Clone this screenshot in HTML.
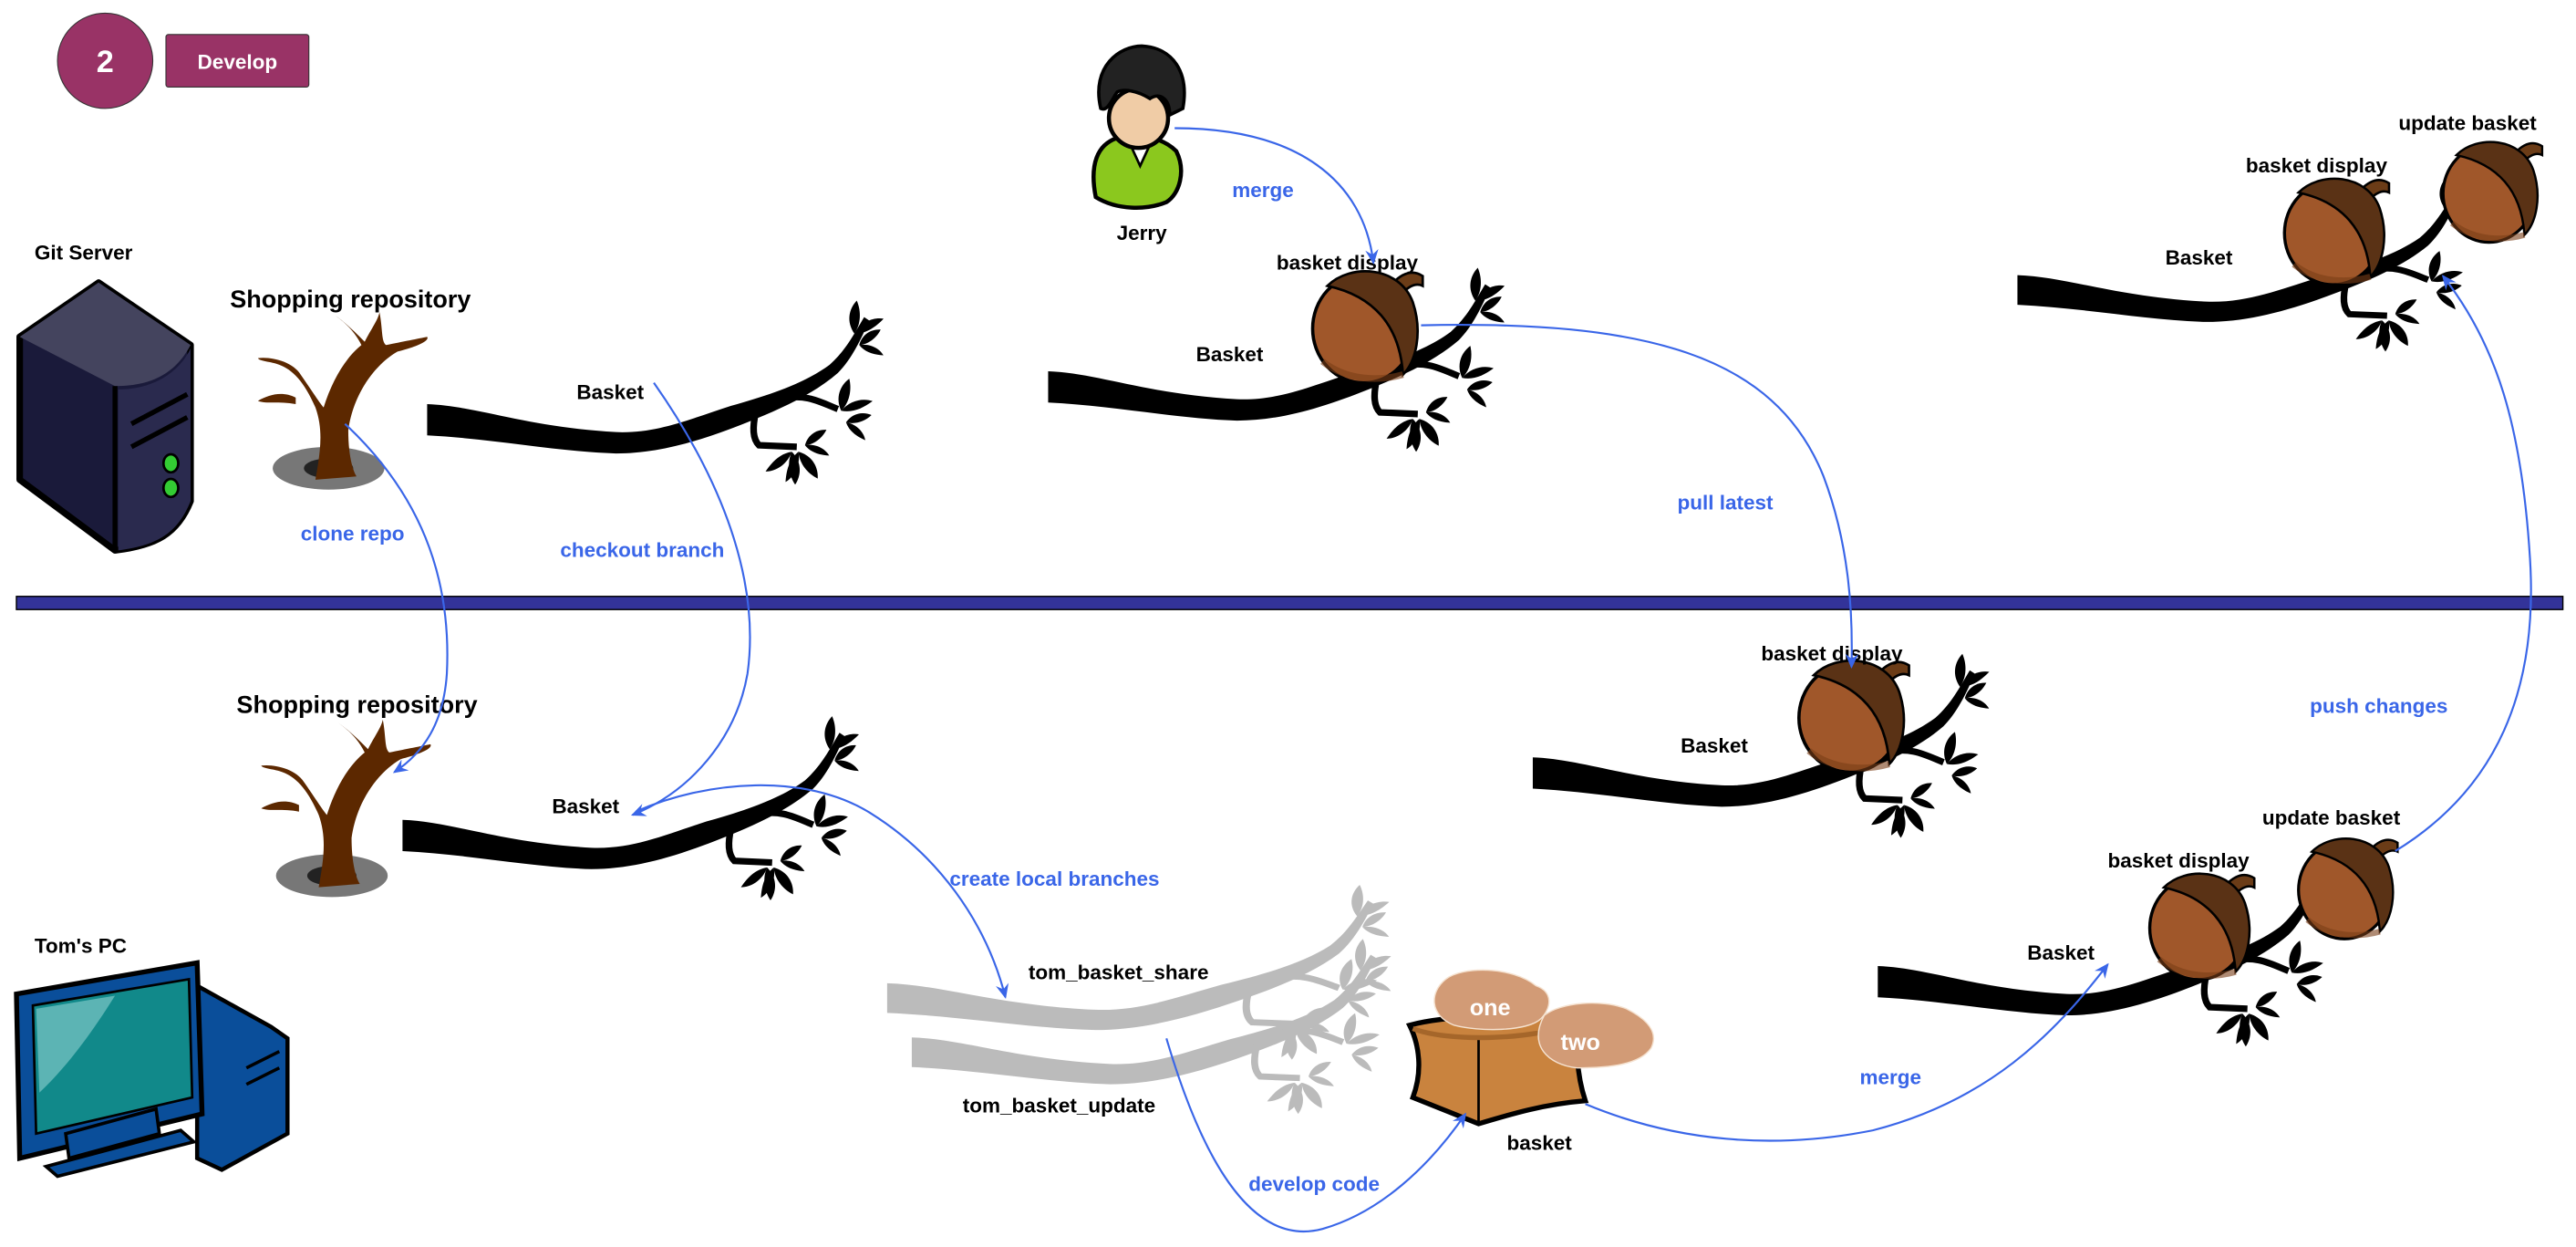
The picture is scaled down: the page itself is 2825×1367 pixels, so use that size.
<!DOCTYPE html>
<html><head><meta charset="utf-8"><style>
html,body{margin:0;padding:0;background:#fff;}
svg{display:block;}
text{font-family:"Liberation Sans",sans-serif;font-weight:bold;}
.l{font-size:12.5px;fill:#000;}
.b{font-size:12.5px;fill:#3a66e8;}
.c{fill:none;stroke:#3a66e8;stroke-width:1.2;}
</style></head><body>
<svg width="2825" height="1367" viewBox="0 0 1568 759" preserveAspectRatio="none" xmlns="http://www.w3.org/2000/svg">
<defs>
<marker id="ar" markerWidth="10" markerHeight="10" refX="8" refY="5" orient="auto" markerUnits="userSpaceOnUse">
<path d="M0,1 L9,5 L0,9 L3,5 Z" fill="#3a66e8"/></marker>
<g id="leaf2">
<path d="M0,0 C-6,-6 -6,-14 -2,-20 C2,-14 3,-6 0,0 Z"/>
<path d="M0,0 C3,-8 10,-12 16,-12 C12,-6 7,-1 0,0 Z"/>
</g>
<g id="br">
<path d="M0,-9 C30,-8 60,5 115,8 C140,9 160,0 185,-8 C210,-15 230,-22 245,-33 C255,-42 260,-52 266,-62 L269,-60 C264,-48 258,-36 250,-28 C235,-15 215,-6 195,2 C165,14 140,21 115,21 C80,20 40,12 0,10 Z"/>
<path d="M200,-4 C198,5 198,12 202,16 L225,17" fill="none" stroke="currentColor" stroke-width="4"/>
<path d="M215,-12 C230,-16 240,-10 250,-6" fill="none" stroke="currentColor" stroke-width="4"/>
<use href="#leaf2" transform="translate(260,-52) rotate(10)"/>
<use href="#leaf2" transform="translate(263,-45) rotate(60) scale(0.8)"/>
<use href="#leaf2" transform="translate(252,-5) rotate(20)"/>
<use href="#leaf2" transform="translate(255,2) rotate(80) scale(0.8)"/>
<use href="#leaf2" transform="translate(222,20) rotate(180)"/>
<use href="#leaf2" transform="translate(226,20) rotate(150)"/>
<use href="#leaf2" transform="translate(230,16) rotate(60) scale(0.8)"/>
</g>
<g id="ac">
<path d="M18,-26 C24,-32 30,-34 36,-30 L36,-24 C32,-26 28,-24 24,-20 Z" fill="#6b3c17" stroke="#000" stroke-width="1.5"/>
<ellipse cx="0" cy="2" rx="31" ry="33" fill="#a0572a" stroke="#000" stroke-width="2"/>
<path d="M-22,-24 C-8,-38 22,-36 30,-14 C36,4 32,22 24,30 C22,0 6,-18 -22,-24 Z" fill="#5a3215" stroke="#000" stroke-width="1.5"/>
<path d="M-25,22 C-10,34 10,34 24,30" fill="none" stroke="#7a3e18" stroke-width="4" opacity="0.6"/>
</g>
</defs>

<!-- header -->
<circle cx="64" cy="37" r="29" fill="#993366" stroke="#333" stroke-width="0.6"/>
<text x="64" y="44" text-anchor="middle" style="font-size:19px;fill:#fff">2</text>
<rect x="101" y="21" width="87" height="32" rx="1.5" fill="#993366" stroke="#333" stroke-width="0.6"/>
<text x="144.5" y="42" text-anchor="middle" style="font-size:12.5px;fill:#fff">Develop</text>

<!-- divider -->
<rect x="10" y="363" width="1550" height="8" fill="#333399" stroke="#000" stroke-width="0.8"/>

<!-- server -->
<text x="21" y="158" class="l">Git Server</text>
<path d="M12,205 L60,172 L116,210 L116,305 C108,325 95,332 70,335 L12,292 Z" fill="#1a1a3a" stroke="#000" stroke-width="4" stroke-linejoin="round"/>
<path d="M12,205 L60,172 L116,210 C108,225 95,235 70,235 Z" fill="#44445e"/>
<path d="M70,235 L70,335" stroke="#000" stroke-width="3"/>
<path d="M72,237 C95,237 110,225 116,212 L116,305 C108,325 95,332 72,335Z" fill="#2a2a4e"/>
<path d="M80,258 L114,240 M80,272 L114,254" stroke="#000" stroke-width="3"/>
<ellipse cx="104" cy="282" rx="4.5" ry="5.5" fill="#3c3" stroke="#000" stroke-width="1.5"/>
<ellipse cx="104" cy="297" rx="4.5" ry="5.5" fill="#3c3" stroke="#000" stroke-width="1.5"/>

<!-- tree top -->
<text x="140" y="187" style="font-size:15px">Shopping repository</text>
<ellipse cx="200" cy="285" rx="34" ry="13" fill="#777"/>
<ellipse cx="200" cy="285" rx="15" ry="6" fill="#222"/>
<path d="M192,292 C195,275 197,262 192,248 C185,232 178,225 170,222 C165,220 158,220 157,218 C165,217 178,220 183,228 C190,238 195,246 197,248 C202,232 210,218 220,210 C215,200 208,195 204,192 C210,196 218,204 222,208 C226,200 230,195 231,190 C233,200 232,208 235,210 C245,208 255,206 260,205 C262,208 250,212 242,214 C228,222 215,240 212,262 C212,275 214,285 217,290 Z" fill="#5c2800"/>
<path d="M180,242 C172,238 164,240 157,244 C162,246 170,244 180,246 Z" fill="#5c2800"/>

<!-- tree bottom -->
<text x="144" y="434" style="font-size:15px">Shopping repository</text>
<ellipse cx="202" cy="533" rx="34" ry="13" fill="#777"/>
<ellipse cx="202" cy="533" rx="15" ry="6" fill="#222"/>
<path d="M194,540 C197,523 199,510 194,496 C187,480 180,473 172,470 C167,468 160,468 159,466 C167,465 180,468 185,476 C192,486 197,494 199,496 C204,480 212,466 222,458 C217,448 210,443 206,440 C212,444 220,452 224,456 C228,448 232,443 233,438 C235,448 234,456 237,458 C247,456 257,454 262,453 C264,456 252,460 244,462 C230,470 217,488 214,510 C214,523 216,533 219,538 Z" fill="#5c2800"/>
<path d="M182,490 C174,486 166,488 159,492 C164,494 172,492 182,494 Z" fill="#5c2800"/>

<!-- branches -->
<use href="#br" transform="translate(260,255)" fill="#000" color="#000"/>
<use href="#br" transform="translate(638,235)" fill="#000" color="#000"/>
<use href="#br" transform="translate(1228,176) scale(1,0.95)" fill="#000" color="#000"/>
<use href="#br" transform="translate(245,508)" fill="#000" color="#000"/>
<use href="#br" transform="translate(933,470)" fill="#000" color="#000"/>
<use href="#br" transform="translate(1143,597)" fill="#000" color="#000"/>
<use href="#br" transform="translate(540,607) scale(1.1,0.95)" fill="#bbb" color="#bbb"/>
<use href="#br" transform="translate(555,640) scale(1.05,0.95)" fill="#bbb" color="#bbb"/>

<!-- acorns -->
<use href="#ac" transform="translate(830,198)"/>
<use href="#ac" transform="translate(1420,140) scale(0.95)"/>
<use href="#ac" transform="translate(1515,116) scale(0.9)"/>
<use href="#ac" transform="translate(1126,435)"/>
<use href="#ac" transform="translate(1338,563) scale(0.95)"/>
<use href="#ac" transform="translate(1427,540) scale(0.9)"/>

<!-- Jerry -->
<path d="M667,120 C663,100 668,88 680,84 C692,80 708,84 716,92 C722,104 718,118 710,123 C698,128 680,128 667,120 Z" fill="#8bc81e" stroke="#000" stroke-width="2.5"/>
<path d="M688,88 L694,101 L700,88 Z" fill="#fff" stroke="#000" stroke-width="1.5"/>
<circle cx="693" cy="72" r="18" fill="#f0cca6" stroke="#000" stroke-width="2.5"/>
<path d="M670,66 C664,40 682,28 695,28 C714,29 724,44 720,66 L712,70 C712,60 706,56 700,60 C692,55 684,54 680,56 C676,62 674,68 670,66 Z" fill="#222" stroke="#000" stroke-width="2"/>
<text x="695" y="146" text-anchor="middle" class="l">Jerry</text>

<!-- PC -->
<path d="M120,600 L165,625 L175,632 L175,690 L135,712 L120,705 Z" fill="#0a4e9a" stroke="#000" stroke-width="2.5"/>
<path d="M150,650 L170,640 M150,660 L170,650" stroke="#000" stroke-width="2"/>
<path d="M10,605 L120,586 L123,678 L12,705 Z" fill="#0a4e9a" stroke="#000" stroke-width="3"/>
<path d="M20,612 L115,596 L117,668 L22,690 Z" fill="#11898a" stroke="#000" stroke-width="1.5"/>
<path d="M22,614 L70,606 C55,630 40,650 24,665 Z" fill="#7cc6c6" opacity="0.7"/>
<path d="M40,690 L95,675 L97,690 L42,705 Z" fill="#0a4e9a" stroke="#000" stroke-width="2"/>
<path d="M28,710 L110,688 L118,695 L35,716 Z" fill="#0a4e9a" stroke="#000" stroke-width="2"/>
<text x="21" y="580" class="l">Tom's PC</text>

<!-- basket box -->
<path d="M858,624 C880,618 930,616 963,620 C958,635 960,655 965,670 C940,672 920,678 900,684 C880,676 865,670 860,668 C866,652 864,636 858,624 Z" fill="#c9833e" stroke="#000" stroke-width="3"/>
<path d="M900,632 L900,684" stroke="#000" stroke-width="1.5"/>
<path d="M860,626 C880,634 930,634 963,622" fill="none" stroke="#a5662a" stroke-width="3"/>
<path d="M880,596 C890,588 920,588 935,600 C946,604 944,614 938,620 C930,628 900,628 885,624 C870,618 870,604 880,596 Z" fill="#d29b76" stroke="#f5e2d0" stroke-width="0.8"/>
<text x="907" y="618" text-anchor="middle" style="font-size:14px;fill:#fff">one</text>
<path d="M940,618 C950,610 975,608 990,614 C1002,620 1010,628 1005,638 C998,648 980,650 960,650 C942,648 930,636 940,618 Z" fill="#d29b76" stroke="#f5e2d0" stroke-width="0.8"/>
<text x="962" y="639" text-anchor="middle" style="font-size:14px;fill:#fff">two</text>
<text x="937" y="700" text-anchor="middle" class="l">basket</text>

<!-- labels -->
<text x="351" y="243" class="l">Basket</text>
<text x="728" y="220" class="l">Basket</text>
<text x="777" y="164" class="l">basket display</text>
<text x="1318" y="161" class="l">Basket</text>
<text x="1367" y="105" class="l">basket display</text>
<text x="1460" y="79" class="l">update basket</text>
<text x="336" y="495" class="l">Basket</text>
<text x="1023" y="458" class="l">Basket</text>
<text x="1072" y="402" class="l">basket display</text>
<text x="1234" y="584" class="l">Basket</text>
<text x="1283" y="528" class="l">basket display</text>
<text x="1377" y="502" class="l">update basket</text>
<text x="626" y="596" class="l">tom_basket_share</text>
<text x="586" y="677" class="l">tom_basket_update</text>

<text x="183" y="329" class="b">clone repo</text>
<text x="341" y="339" class="b">checkout branch</text>
<text x="750" y="120" class="b">merge</text>
<text x="1021" y="310" class="b">pull latest</text>
<text x="578" y="539" class="b">create local branches</text>
<text x="760" y="725" class="b">develop code</text>
<text x="1132" y="660" class="b">merge</text>
<text x="1406" y="434" class="b">push changes</text>

<!-- connectors -->
<path class="c" d="M210,258 C255,300 275,350 272,410 C270,440 258,458 240,470" marker-end="url(#ar)"/>
<path class="c" d="M398,233 C445,300 462,360 455,410 C448,450 420,482 385,496" marker-end="url(#ar)"/>
<path class="c" d="M715,78 C790,78 830,110 836,160" marker-end="url(#ar)"/>
<path class="c" d="M865,198 C1000,195 1080,215 1110,290 C1125,330 1128,370 1127,406" marker-end="url(#ar)"/>
<path class="c" d="M387,494 C430,475 490,470 530,495 C570,520 600,560 612,607" marker-end="url(#ar)"/>
<path class="c" d="M710,632 C730,700 760,760 805,748 C840,738 870,710 892,678" marker-end="url(#ar)"/>
<path class="c" d="M965,672 C1020,695 1080,700 1140,688 C1210,670 1250,630 1283,587" marker-end="url(#ar)"/>
<path class="c" d="M1458,518 C1520,480 1545,420 1540,340 C1535,260 1520,210 1487,168" marker-end="url(#ar)"/>
</svg>
</body></html>
